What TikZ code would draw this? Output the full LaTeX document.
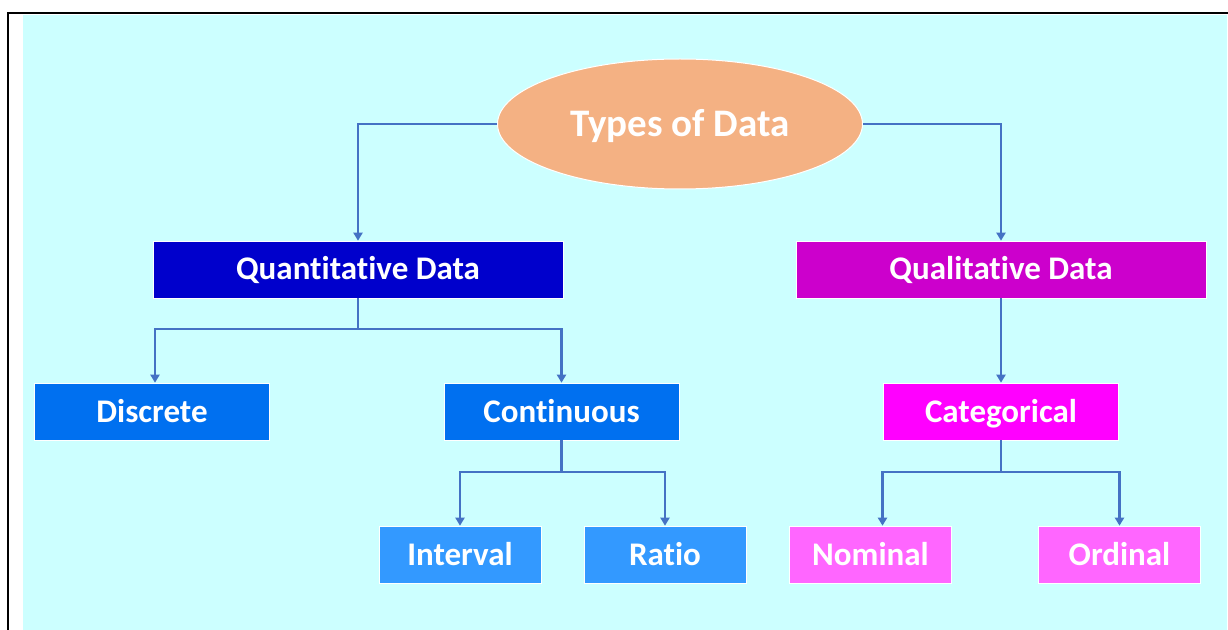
\documentclass[tikz,border=0pt]{standalone}
\usepackage{fontspec}
\setmainfont[Ligatures=CommonOff]{Carlito}
\usetikzlibrary{arrows.meta,shapes.geometric}
\definecolor{bgcyan}{HTML}{CCFFFF}
\definecolor{linecol}{HTML}{4472C4}
\definecolor{ellcol}{HTML}{F4B183}
\definecolor{quantcol}{HTML}{0000CC}
\definecolor{qualcol}{HTML}{CC00CC}
\definecolor{lvltwoblue}{HTML}{0070F0}
\definecolor{lvltwopink}{HTML}{FF00FF}
\definecolor{lvlthreeblue}{HTML}{3399FF}
\definecolor{lvlthreepink}{HTML}{FF66FF}
\tikzset{
  box/.style={rectangle, draw=white, line width=0.6bp, text=white, font=\bfseries\fontsize{33bp}{35bp}\selectfont, inner sep=0pt, minimum height=57bp, text height=21bp, text depth=0bp},
  bigbox/.style={box, minimum width=410bp},
  midbox/.style={box, minimum width=235bp},
  smallbox/.style={box, minimum width=162bp},
  conn/.style={draw=linecol, line width=2.4bp},
  arr/.style={conn, -{Triangle[width=9bp,length=8bp]}}
}
\begin{document}
\begin{tikzpicture}[x=1bp,y=-1bp]
\useasboundingbox (0,0) rectangle (1228,630);
\fill[white] (0,0) rectangle (1228,630);
\fill[bgcyan] (23,15) rectangle (1227,630);
\draw[black, line width=2.5bp] (8,630) -- (8,13) -- (1228,13);

\node[ellipse, fill=ellcol, draw=white, line width=1bp, minimum width=365bp, minimum height=130bp, inner sep=0pt, text=white, font=\bfseries\fontsize{39bp}{41bp}\selectfont, text height=25bp, text depth=0bp] (root) at (680,124) {Types of Data};

\node[bigbox, fill=quantcol] (quant) at (358,269.5) {Quantitative Data};
\node[bigbox, fill=qualcol] (qual) at (1001,269.5) {Qualitative Data};

\node[midbox, fill=lvltwoblue] (disc) at (152,411.5) {Discrete};
\node[midbox, fill=lvltwoblue] (cont) at (561.5,411.5) {Continuous};
\node[midbox, fill=lvltwopink] (cat) at (1001,411.5) {Categorical};

\node[smallbox, fill=lvlthreeblue] (intv) at (460,554.5) {Interval};
\node[smallbox, fill=lvlthreeblue] (ratio) at (665,554.5) {Ratio};
\node[smallbox, fill=lvlthreepink] (nom) at (870.5,554.5) {Nominal};
\node[smallbox, fill=lvlthreepink] (ord) at (1119.5,554.5) {Ordinal};

\coordinate (qj) at (358,329);
\coordinate (cj) at (561.5,472);
\coordinate (gj) at (1001,472);

\draw[arr] (root.west) -| (quant.north);
\draw[arr] (root.east) -| (qual.north);
\draw[conn] (quant.south) -- (qj);
\draw[arr] (qj) -| ([xshift=3bp]disc.north);
\draw[arr] (qj) -| (cont.north);
\draw[arr] (qual.south) -- (cat.north);
\draw[conn] (cont.south) -- (cj);
\draw[arr] (cj) -| (intv.north);
\draw[arr] (cj) -| (ratio.north);
\draw[conn] (cat.south) -- (gj);
\draw[arr] (gj) -| ([xshift=12bp]nom.north);
\draw[arr] (gj) -| (ord.north);
\end{tikzpicture}
\end{document}
